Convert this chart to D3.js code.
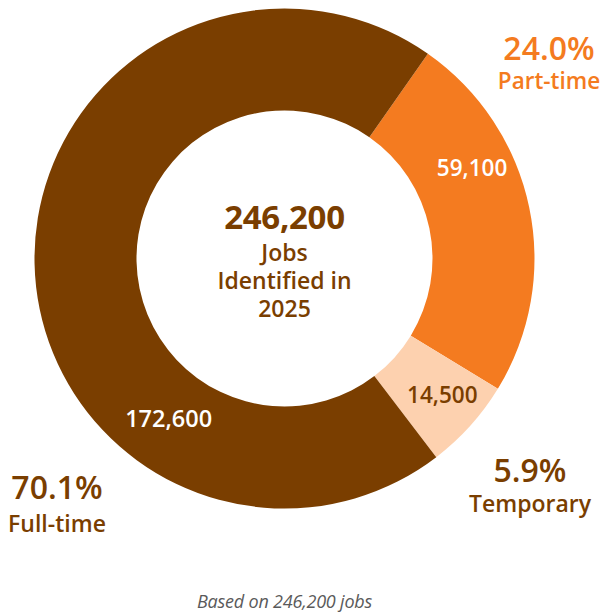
<!DOCTYPE html>
<html>
<head>
<meta charset="utf-8">
<script src="https://cdn.jsdelivr.net/npm/d3@7"></script>
<style>
  html, body { margin: 0; padding: 0; background: #fff; }
  svg text { font-family: "Open Sans", "Noto Sans", sans-serif; }
</style>
</head>
<body>
<svg id="chart" width="601" height="616"></svg>
<script>
// ---- data ----
const categories = ["Part-time", "Temporary", "Full-time"];
const values = [59100, 14500, 172600];
const valueLabels = ["59,100", "14,500", "172,600"];
const percentLabels = ["24.0%", "5.9%", "70.1%"];
const totalLabel = "246,200";
const centerLines = ["Jobs", "Identified in", "2025"];
const footnote = "Based on 246,200 jobs";

// ---- styles ----
const colors = ["#F47B20", "#FDD1AF", "#7A3E00"];
const valueColors = ["#ffffff", "#7A3E00", "#ffffff"];
const brown = "#7A3E00";

const svg = d3.select("#chart");
const cx = 284.5, cy = 258.5, rOuter = 250, rInner = 148;
const startDeg = 35;

const pie = d3.pie().sort(null).value(d => d)
  .startAngle(startDeg * Math.PI / 180)
  .endAngle((startDeg + 360) * Math.PI / 180);
const arcs = pie(values);
const arc = d3.arc().innerRadius(rInner).outerRadius(rOuter);

const g = svg.append("g").attr("transform", `translate(${cx},${cy})`);
g.selectAll("path").data(arcs).join("path")
  .attr("d", arc)
  .attr("fill", (d, i) => colors[i]);

// value labels: placed along the ring, at a fraction through each slice
const labelFrac = [0.34, 0.45, 0.29];
const labelR = [208, 209, 198];
g.selectAll("text.val").data(arcs).join("text")
  .attr("class", "val")
  .attr("x", (d, i) => labelR[i] * Math.sin(d.startAngle + (d.endAngle - d.startAngle) * labelFrac[i]))
  .attr("y", (d, i) => -labelR[i] * Math.cos(d.startAngle + (d.endAngle - d.startAngle) * labelFrac[i]))
  .attr("dy", "0.35em")
  .attr("text-anchor", "middle")
  .attr("font-size", (d, i) => i === 2 ? 23.5 : 22.5)
  .attr("font-weight", 600)
  .attr("fill", (d, i) => valueColors[i])
  .text((d, i) => valueLabels[i]);

// center text
g.append("text").attr("x", 0).attr("y", -30)
  .attr("text-anchor", "middle").attr("font-size", 33).attr("font-weight", 700)
  .attr("fill", brown).style("letter-spacing", "-0.3px").text(totalLabel);
centerLines.forEach((t, i) => {
  g.append("text").attr("x", 0).attr("y", 2.5 + i * 28)
    .attr("text-anchor", "middle").attr("font-size", 23).attr("font-weight", 600)
    .attr("fill", brown).text(t);
});

// outside category labels
const outside = [
  { x: 549, yp: 60, yc: 89, color: colors[0], cs: 22.5 },
  { x: 530, yp: 482, yc: 512, color: brown, cs: 23 },
  { x: 57, yp: 499, yc: 532, color: brown, cs: 23 }
];
outside.forEach((o, i) => {
  svg.append("text").attr("x", o.x).attr("y", o.yp)
    .attr("text-anchor", "middle").attr("font-size", 32).attr("font-weight", 600)
    .attr("fill", o.color).text(percentLabels[i]);
  svg.append("text").attr("x", o.x).attr("y", o.yc)
    .attr("text-anchor", "middle").attr("font-size", o.cs).attr("font-weight", 600)
    .attr("fill", o.color).text(categories[i]);
});

svg.append("text").attr("x", 284.5).attr("y", 608)
  .attr("text-anchor", "middle").attr("font-size", 18).attr("font-style", "italic")
  .attr("font-weight", 400).attr("fill", "#5a5a5a").style("letter-spacing", "-0.2px")
  .text(footnote);
</script>
</body>
</html>
